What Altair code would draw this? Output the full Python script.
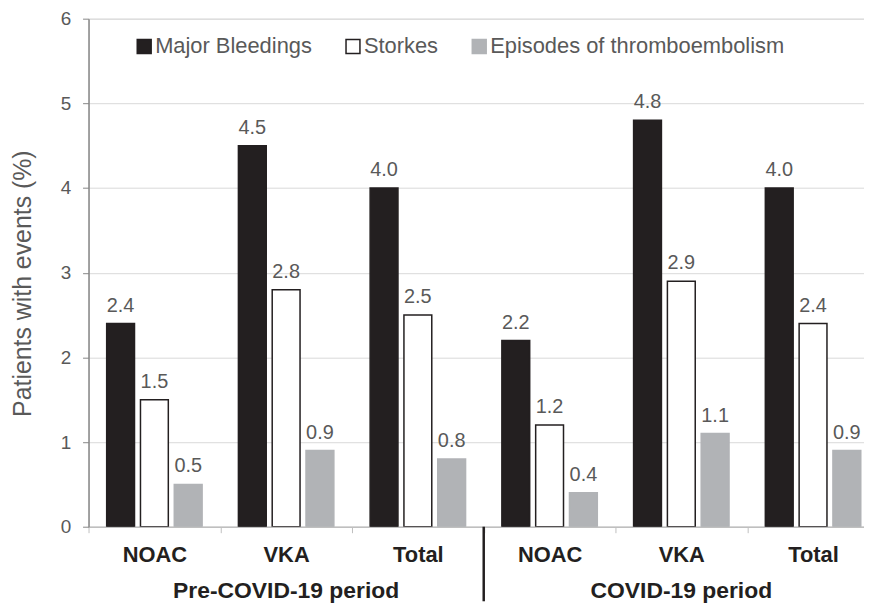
import altair as alt
import pandas as pd

periods = ["Pre-COVID-19 period", "COVID-19 period"]
period_keys = ["Pre", "COVID"]
drugs = ["NOAC", "VKA", "Total"]
series = ["Major Bleedings", "Storkes", "Episodes of thromboembolism"]

major_bleedings = [2.4, 4.5, 4.0, 2.2, 4.8, 4.0]
storkes = [1.5, 2.8, 2.5, 1.2, 2.9, 2.4]
thromboembolism = [0.5, 0.9, 0.8, 0.4, 1.1, 0.9]

fills = ["#231f20", "#ffffff", "#b1b3b6"]
strokes = ["#231f20", "#231f20", "#b1b3b6"]

cats = [f"{p}|{d}" for p in period_keys for d in drugs]

rows = []
for i, c in enumerate(cats):
    for s, vals in zip(series, [major_bleedings, storkes, thromboembolism]):
        rows.append({"cat": c, "series": s, "value": vals[i]})
df = pd.DataFrame(rows)

group_df = pd.DataFrame({"cat": [f"{k}|VKA" for k in period_keys], "label": periods})
divider_df = pd.DataFrame({"cat": [f"{period_keys[1]}|NOAC"]})

FONT = "Liberation Sans"
GRAY = "#595959"
H = 511

xscale = alt.Scale(domain=cats, range=[0, 795], paddingInner=0, paddingOuter=0)
off_scale = alt.Scale(domain=series, paddingInner=0.1765, paddingOuter=0.5368)

x_enc = alt.X("cat:N", scale=xscale, sort=cats, title=None,
              axis=alt.Axis(labelExpr="split(datum.value, '|')[1]", labelAngle=0,
                            labelFont=FONT, labelFontSize=22, labelFontWeight="bold",
                            labelColor="#231f20", labelPadding=12, tickBand="extent",
                            tickSize=6, tickColor="#bfbfbf", domainColor="#bfbfbf",
                            domainWidth=1.5, grid=False))
y_enc = alt.Y("value:Q", scale=alt.Scale(domain=[0, 6], nice=False),
              axis=alt.Axis(values=[0, 1, 2, 3, 4, 5, 6], format="d",
                            title="Patients with events (%)",
                            titleFont=FONT, titleFontSize=25, titleFontWeight="normal",
                            titleColor=GRAY, titlePadding=25, titleY=266, labelFont=FONT,
                            labelFontSize=19, labelColor=GRAY, labelPadding=12,
                            tickSize=6, tickColor="#878787", domainColor="#878787",
                            domainWidth=1.5, grid=True, gridColor="#d9d9d9", gridWidth=1))

bars = alt.Chart(df).mark_bar(clip=True, strokeWidth=1.5).encode(
    x=x_enc,
    xOffset=alt.XOffset("series:N", scale=off_scale, sort=series),
    y=y_enc,
    fill=alt.Fill("series:N", sort=series, scale=alt.Scale(domain=series, range=fills),
                  legend=alt.Legend(title=None, orient="none", legendX=45, legendY=17,
                                    direction="horizontal", symbolType="square",
                                    symbolSize=196, symbolStrokeWidth=1.5,
                                    labelFont=FONT, labelFontSize=22, labelColor=GRAY,
                                    labelOffset=0, columnPadding=30, labelLimit=500)),
    stroke=alt.Stroke("series:N", sort=series, scale=alt.Scale(domain=series, range=strokes)),
)

labels = alt.Chart(df).mark_text(clip=True, font=FONT, fontSize=20, color=GRAY,
                                 baseline="alphabetic", dy=-12).encode(
    x=alt.X("cat:N", sort=cats),
    xOffset=alt.XOffset("series:N", sort=series),
    y=alt.Y("value:Q"),
    text=alt.Text("value:Q", format=".1f"),
)

group_labels = alt.Chart(group_df).mark_text(font=FONT, fontSize=23, fontWeight="bold",
                                             color="#231f20", baseline="middle").encode(
    x=alt.X("cat:N", sort=cats),
    y=alt.value(H + 65),
    text="label:N",
)

divider = alt.Chart(divider_df).mark_rule(color="#231f20", strokeWidth=2.5).encode(
    x=alt.X("cat:N", sort=cats, bandPosition=0),
    y=alt.value(H),
    y2=alt.value(H + 75),
)

chart = alt.layer(bars, labels, group_labels, divider).properties(
    width=780, height=H,
    autosize=alt.AutoSizeParams(type="none"),
    padding={"left": 81, "top": 9, "right": 0, "bottom": 77},
).configure_view(stroke=None).configure(font=FONT, background="white")

chart.save("out.html", embed_options={"renderer": "svg", "actions": False})
